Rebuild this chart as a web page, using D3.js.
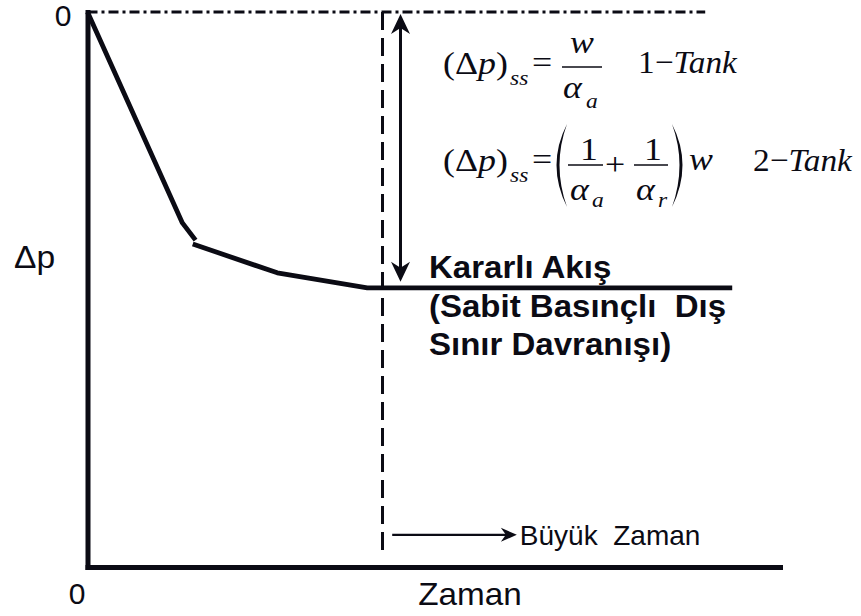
<!DOCTYPE html>
<html>
<head>
<meta charset="utf-8">
<script src="https://cdn.jsdelivr.net/npm/d3@7"></script>
<style>
  body { margin: 0; background: #fff; }
  svg { display: block; }
  text { white-space: pre; }
</style>
</head>
<body>
<svg id="chart" width="861" height="616"></svg>
<script>
// Pressure drop response of a tank towards steady flow (schematic)
const timeEarly = [0, 13.7, 15.6];          // early transient branch
const dpEarly   = [0, 38.0, 41.1];
const timeLate  = [15.2, 27.4, 40.4, 93.1]; // late branch to steady state
const dpLate    = [41.8, 47.0, 49.7, 49.7];
const dpSteady  = 49.7;      // (Δp)ss
const tBoundary = 42.6;      // onset of steady flow
const tArrow    = 45.2;      // position of the (Δp)ss arrow
const tRefEnd   = 89.2;      // end of the Δp = 0 reference line
const dpBoundaryEnd = 97.3;
const lateTimeArrow = { t0: 44.0, t1: 62.0, dp: 94.2 };
const axisTickLabels = ["0"];
const xTitle = "Zaman";
const yTitle = "Δp";
const lateTimeLabel = "Büyük  Zaman";
const steadyLabel = ["Kararlı Akış", "(Sabit Basınçlı  Dış", "Sınır Davranışı)"];
const tankLabels = ["1", "2"];

const ink = "#0b0b14";
const sans = "'Liberation Sans', Arial, sans-serif";
const serif = "'Liberation Serif', 'Times New Roman', serif";
const svg = d3.select("#chart");

const x = d3.scaleLinear().domain([0, 100]).range([87.5, 780]);
const y = d3.scaleLinear().domain([0, 100]).range([12, 567]);

// Axes: thick frame lines with only the origin labels
const yAxis = d3.axisLeft(y).tickValues([0]).tickSize(0).tickSizeOuter(0)
  .tickPadding(16).tickFormat((d, i) => axisTickLabels[i]);
const xAxis = d3.axisBottom(x).tickValues([0]).tickSize(0).tickSizeOuter(0)
  .tickPadding(14).tickFormat((d, i) => axisTickLabels[i]);

const gy = svg.append("g").attr("transform", `translate(${x(0)},0)`).call(yAxis);
const gx = svg.append("g").attr("transform", `translate(0,${y(100)})`).call(xAxis);
[gx, gy].forEach(g => {
  g.select(".domain").attr("stroke", ink).attr("stroke-width", 5).attr("stroke-linecap", "square");
  g.selectAll("text").attr("fill", ink).attr("font-family", sans).attr("font-size", 30);
});
gy.selectAll("text").attr("dy", "0.45em");
gx.selectAll("text").attr("dx", -11).attr("dy", "0.78em");

// Text helper with a slight horizontal stretch
function label(xp, yp, str, opts) {
  const o = Object.assign({ size: 30, family: sans, sx: 1, anchor: "start" }, opts);
  const t = svg.append("text")
    .attr("transform", `translate(${xp},${yp}) scale(${o.sx},1)`)
    .attr("font-family", o.family).attr("font-size", o.size)
    .attr("text-anchor", o.anchor).attr("fill", ink);
  if (o.weight) t.attr("font-weight", o.weight);
  if (o.italic) t.attr("font-style", "italic");
  if (str !== null) t.text(str);
  return t;
}

// Axis titles
label(14, 268, yTitle, { size: 32, sx: 1.05 });
label(470, 605, xTitle, { size: 32, sx: 1.04, anchor: "middle" });

// Δp = 0 reference (dash-dot)
svg.append("line")
  .attr("x1", x(0)).attr("x2", x(tRefEnd)).attr("y1", y(0)).attr("y2", y(0))
  .attr("stroke", ink).attr("stroke-width", 3).attr("stroke-dasharray", "10,4,3,4");

// Onset of steady flow (dashed)
svg.append("line")
  .attr("x1", x(tBoundary)).attr("x2", x(tBoundary)).attr("y1", y(0)).attr("y2", y(dpBoundaryEnd))
  .attr("stroke", ink).attr("stroke-width", 3).attr("stroke-dasharray", "18,8");

// Pressure drop curve
const line = d3.line().x(d => x(d[0])).y(d => y(d[1]));
[[timeEarly, dpEarly], [timeLate, dpLate]].forEach(([t, p]) => {
  svg.append("path").datum(d3.zip(t, p)).attr("d", line)
    .attr("fill", "none").attr("stroke", ink).attr("stroke-width", 4.8)
    .attr("stroke-linejoin", "round");
});

// Arrowhead helper: tip at (tx, ty), pointing along angle (radians)
function arrowHead(tx, ty, angle, len, half, notch) {
  const c = Math.cos(angle), s = Math.sin(angle);
  const pt = (a, b) => [tx - a * c - b * s, ty - a * s + b * c];
  const p1 = pt(len, half), p2 = pt(len - notch, 0), p3 = pt(len, -half);
  svg.append("path")
    .attr("d", `M${tx},${ty}L${p1}L${p2}L${p3}Z`)
    .attr("fill", ink);
}

// Double arrow spanning (Δp)ss
const ax = x(tArrow), ay0 = y(0) + 2, ay1 = y(dpSteady) - 6;
svg.append("line").attr("x1", ax).attr("x2", ax).attr("y1", ay0 + 10).attr("y2", ay1 - 10)
  .attr("stroke", ink).attr("stroke-width", 3);
arrowHead(ax, ay0, -Math.PI / 2, 20, 9.5, 6);
arrowHead(ax, ay1, Math.PI / 2, 20, 9.5, 6);

// Late time arrow
const lx0 = x(lateTimeArrow.t0), lx1 = x(lateTimeArrow.t1), ly = y(lateTimeArrow.dp);
svg.append("line").attr("x1", lx0).attr("x2", lx1 - 8).attr("y1", ly).attr("y2", ly)
  .attr("stroke", ink).attr("stroke-width", 2.2);
arrowHead(lx1, ly, 0, 16, 7, 5);
label(lx1 + 3, ly + 10, lateTimeLabel, { size: 28 });

// Steady flow label
steadyLabel.forEach((s, i) => {
  label(429, 278 + i * 38.5, s, { size: 31, weight: "bold", sx: 1.065 });
});

// Steady-state formulas
const FS = 32, SUB = 21, SX = 1.12;
function math(xp, yp, str, size, italic, anchor) {
  return label(xp, yp, str, { size, italic, family: serif, sx: SX, anchor });
}
function deltaP(xp, base) {
  const t = label(xp, base, null, { size: FS, family: serif, sx: SX });
  t.append("tspan").text("(Δ");
  t.append("tspan").attr("font-style", "italic").text("p");
  t.append("tspan").text(")");
  math(xp + 67, base + 11, "ss", SUB, true);
  math(xp + 89, base - 1, "=", FS, false);
}
function tank(xp, base, n) {
  const t = label(xp, base, null, { size: FS, family: serif, sx: 1.04 });
  t.append("tspan").text(n + "\u2212");
  t.append("tspan").attr("font-style", "italic").text("Tank");
}
function bar(x1, x2, yp) {
  svg.append("line").attr("x1", x1).attr("x2", x2).attr("y1", yp).attr("y2", yp)
    .attr("stroke", ink).attr("stroke-width", 1.5);
}

// 1 − Tank
deltaP(443, 74);
math(582, 53, "w", FS, true, "middle");
bar(562, 602, 67);
math(563, 98, "α", FS, true);
math(586, 108, "a", SUB, true);
tank(638, 73, tankLabels[0]);

// 2 − Tank
deltaP(443, 171);
svg.append("path").attr("d", "M567,124Q546,165 567,207Q552,165 567,124Z").attr("fill", ink);
math(589, 160, "1", FS, false, "middle");
bar(568, 603, 165);
math(570, 200, "α", FS, true);
math(592, 207, "a", SUB, true);
math(615, 175, "+", FS, false, "middle");
math(653, 160, "1", FS, false, "middle");
bar(634, 668, 165);
math(636, 200, "α", FS, true);
math(658, 207, "r", SUB, true);
svg.append("path").attr("d", "M672,124Q693,165 672,207Q687,165 672,124Z").attr("fill", ink);
math(689, 170, "w", FS, true);
tank(753, 171, tankLabels[1]);
</script>
</body>
</html>
